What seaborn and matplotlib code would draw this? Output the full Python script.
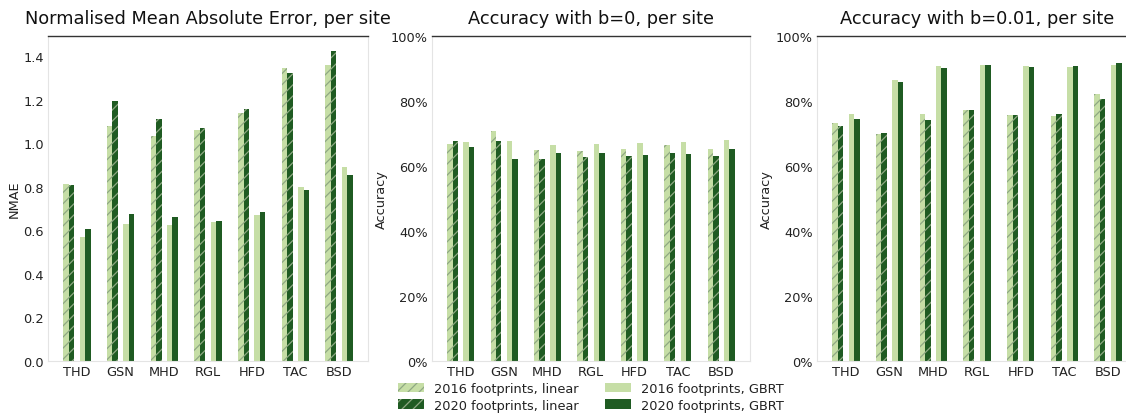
import matplotlib
matplotlib.use("Agg")
import matplotlib.pyplot as plt
from matplotlib.patches import Patch
from matplotlib.ticker import PercentFormatter
import numpy as np
import pandas as pd
import seaborn as sns

sites = ["THD", "GSN", "MHD", "RGL", "HFD", "TAC", "BSD"]

# NMAE per site
nmae_lin_2016 = [0.813, 1.081, 1.032, 1.061, 1.138, 1.347, 1.360]
nmae_lin_2020 = [0.808, 1.195, 1.112, 1.071, 1.156, 1.321, 1.425]
nmae_gbrt_2016 = [0.571, 0.629, 0.623, 0.638, 0.672, 0.801, 0.891]
nmae_gbrt_2020 = [0.606, 0.676, 0.660, 0.641, 0.684, 0.787, 0.854]

# Accuracy with b=0 per site (fractions)
acc0_lin_2016 = [0.667, 0.708, 0.650, 0.647, 0.652, 0.664, 0.652]
acc0_lin_2020 = [0.676, 0.676, 0.621, 0.628, 0.632, 0.640, 0.632]
acc0_gbrt_2016 = [0.675, 0.677, 0.666, 0.669, 0.670, 0.675, 0.681]
acc0_gbrt_2020 = [0.660, 0.623, 0.641, 0.640, 0.635, 0.638, 0.651]

# Accuracy with b=0.01 per site (fractions)
acc1_lin_2016 = [0.733, 0.698, 0.761, 0.771, 0.758, 0.754, 0.823]
acc1_lin_2020 = [0.723, 0.701, 0.742, 0.771, 0.756, 0.761, 0.807]
acc1_gbrt_2016 = [0.761, 0.866, 0.907, 0.912, 0.907, 0.904, 0.910]
acc1_gbrt_2020 = [0.746, 0.860, 0.902, 0.911, 0.905, 0.908, 0.918]

series_labels = ["2016 footprints, linear", "2020 footprints, linear",
                 "2016 footprints, GBRT", "2020 footprints, GBRT"]

LIGHT = "#c6dea6"
DARK = "#1f5b22"
HATCH_COL = "#8ea883"
HATCH = "///"

# hue slots: two linear bars, an empty spacer slot, two GBRT bars
SPACER = " "
hue_order = [series_labels[0], series_labels[1], SPACER,
             series_labels[2], series_labels[3]]
palette = {series_labels[0]: LIGHT, series_labels[1]: DARK, SPACER: "white",
           series_labels[2]: LIGHT, series_labels[3]: DARK}


def long_frame(values_list):
    rows = []
    for label, vals in zip(series_labels, values_list):
        for s, v in zip(sites, vals):
            rows.append({"site": s, "series": label, "value": v})
    return pd.DataFrame(rows)


sns.set_style("white")
plt.rcParams["font.family"] = ["DejaVu Sans"]
plt.rcParams["hatch.linewidth"] = 0.9

fig = plt.figure(figsize=(11.26, 4.14), dpi=100)
W, H = 1126, 414
bottom = (H - 362) / H
height = (362 - 37) / H
lefts = [48, 432, 817]
widths = [320, 318, 320]
axes = [fig.add_axes([l / W, bottom, w / W, height]) for l, w in zip(lefts, widths)]

panels = [
    ("Normalised Mean Absolute Error, per site", "NMAE",
     [nmae_lin_2016, nmae_lin_2020, nmae_gbrt_2016, nmae_gbrt_2020]),
    ("Accuracy with b=0, per site", "Accuracy",
     [acc0_lin_2016, acc0_lin_2020, acc0_gbrt_2016, acc0_gbrt_2020]),
    ("Accuracy with b=0.01, per site", "Accuracy",
     [acc1_lin_2016, acc1_lin_2020, acc1_gbrt_2016, acc1_gbrt_2020]),
]

for i, (ax, (title, ylabel, vals)) in enumerate(zip(axes, panels)):
    df = long_frame(vals)
    lin = df[df["series"].isin(series_labels[:2])]
    gb = df[df["series"].isin(series_labels[2:])]
    common = dict(x="site", y="value", hue="series", order=sites,
                  hue_order=hue_order, palette=palette, width=0.625,
                  saturation=1, errorbar=None, legend=False, ax=ax,
                  linewidth=0, edgecolor=HATCH_COL)
    sns.barplot(data=lin, hatch=HATCH, **common)
    sns.barplot(data=gb, **common)

    ax.set_xlim(-0.66, 6.66)
    if i == 0:
        ax.set_ylim(0, 1.493)
        ax.set_yticks(np.arange(0, 1.41, 0.2))
        ax.yaxis.set_major_formatter(plt.FuncFormatter(lambda v, p: f"{v:.1f}"))
    else:
        ax.set_ylim(0, 1.0)
        ax.set_yticks(np.arange(0, 1.01, 0.2))
        ax.yaxis.set_major_formatter(PercentFormatter(1.0, decimals=0))

    ax.set_title(title, fontsize=12.8, color="#111111", pad=9)
    ax.set_xlabel("")
    ax.set_ylabel(ylabel, fontsize=9.3, color="#222222", labelpad=2)
    ax.tick_params(axis="both", length=0, labelsize=9.3, colors="#222222")
    ax.tick_params(axis="y", pad=3)
    ax.tick_params(axis="x", pad=3)

    for side in ["left", "right", "bottom"]:
        ax.spines[side].set_color("#e4e4e4")
        ax.spines[side].set_linewidth(0.8)
    ax.spines["top"].set_color("#333333")
    ax.spines["top"].set_linewidth(1.0)

handles = [
    Patch(facecolor=LIGHT, edgecolor=HATCH_COL, linewidth=0, hatch=HATCH),
    Patch(facecolor=DARK, edgecolor=HATCH_COL, linewidth=0, hatch=HATCH),
    Patch(facecolor=LIGHT, edgecolor=LIGHT, linewidth=0),
    Patch(facecolor=DARK, edgecolor=DARK, linewidth=0),
]
leg = fig.legend(handles, series_labels, ncol=2,
                 loc="upper center", bbox_to_anchor=(591 / W, 1 - 374 / H),
                 fontsize=9.3, frameon=False, borderpad=0.2,
                 labelspacing=0.3, handleheight=0.8)
for t in leg.get_texts():
    t.set_color("#222222")

fig.savefig("out.png", dpi=100)
